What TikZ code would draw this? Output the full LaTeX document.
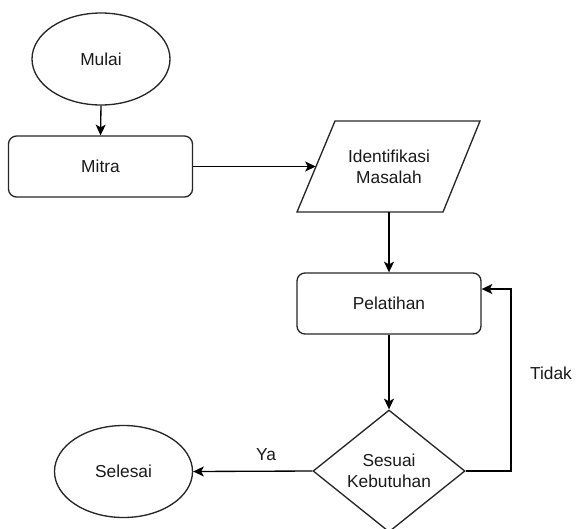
\documentclass[tikz,border=0pt]{standalone}
\usepackage{fontspec}
\setmainfont{Liberation Sans}
\usetikzlibrary{shapes.geometric,arrows.meta}
\begin{document}
\begin{tikzpicture}[x=0.75pt,y=-0.75pt,
  every node/.style={font=\fontsize{13}{15.5}\selectfont, text=black!90},
  base/.style={draw=black!85, line width=1pt, inner sep=0pt, align=center},
  term/.style={base, ellipse, minimum width=103.5pt, minimum height=69pt},
  proc/.style={base, rectangle, rounded corners=6pt, minimum width=138pt, minimum height=45.75pt},
  deci/.style={base, diamond, minimum width=114pt, minimum height=91.5pt, aspect=1.25},
  conn/.style={draw=black, line width=1pt, -{Stealth[length=8pt,width=7.5pt,inset=2pt]}},
  lbl/.style={inner sep=0pt}]
\useasboundingbox (0,0) rectangle (580,528);
\node[term] (mulai) at (101,59) {Mulai};
\node[proc] (mitra) at (100.5,166.5) {Mitra};
\draw[draw=black!85, line width=1pt] (335,121) -- (480,121) -- (443,212) -- (297,212) -- cycle;
\node[lbl, align=center] (ident) at (389,167) {Identifikasi\\Masalah};
\coordinate (identin) at (315.8,166.5);
\coordinate (identout) at (389,212);
\node[proc] (pel) at (389,303.5) {Pelatihan};
\node[deci] (dec) at (389,471) {Sesuai\\Kebutuhan};
\node[term] (sel) at (123.5,471.5) {Selesai};
\coordinate (rb) at (511,471);
\coordinate (rt) at (511,289);
\draw[conn] (mulai.south) -- (mitra.north);
\draw[conn] (mitra.east) -- (identin);
\draw[conn] (identout) -- (pel.north);
\draw[conn] (pel.south) -- (dec.north);
\draw[conn] (dec.west) -- (sel.east);
\draw[conn] (dec.east) -- (rb) -- (rt) -- (pel.east |- rt);
\node[lbl] (ya) at (266,455) {Ya};
\node[lbl] (tidak) at (551,373) {Tidak};
\end{tikzpicture}
\end{document}
